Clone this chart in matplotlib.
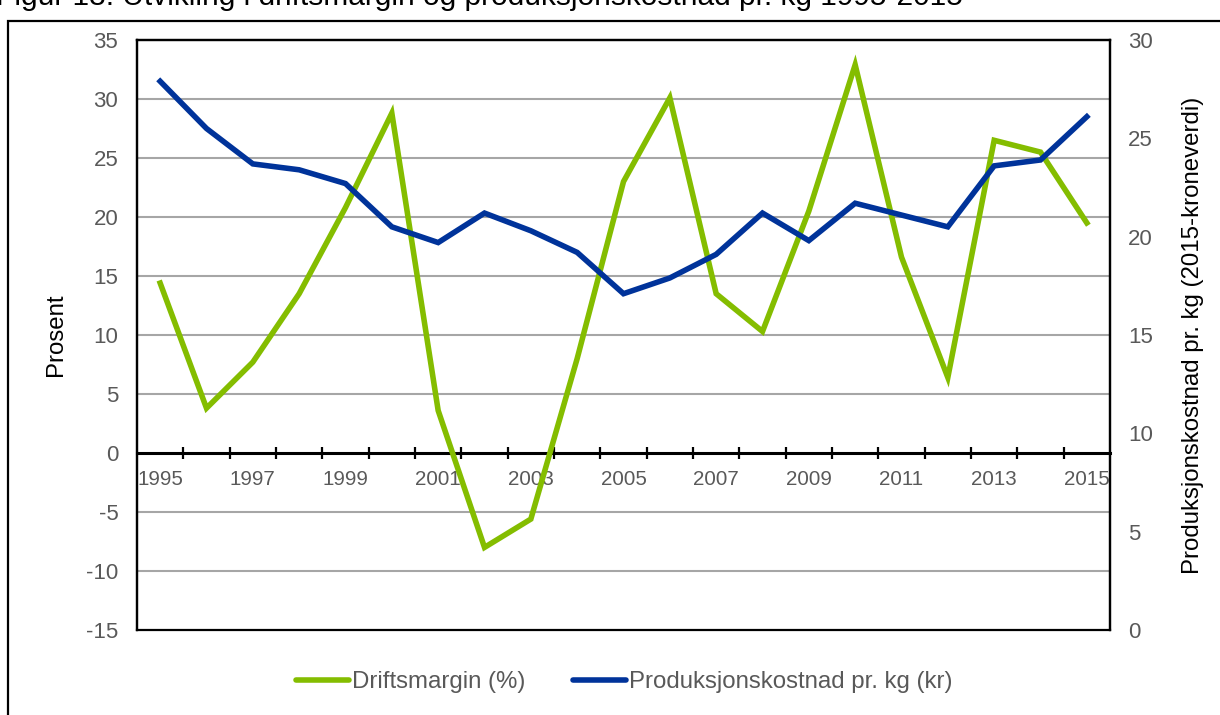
"""Driftsmargin og produksjonskostnad pr. kg 1995-2015."""

import numpy as np
import matplotlib.pyplot as plt
from matplotlib.lines import Line2D
from matplotlib.patches import Rectangle

years = list(range(1995, 2016))
driftsmargin = [14.4, 3.8, 7.7, 13.5, 20.8, 28.8, 3.6, -8.0, -5.6, 8.0, 23.0,
                30.1, 13.5, 10.3, 20.5, 32.9, 16.6, 6.4, 26.5, 25.5, 19.5]
kostnad = [27.9, 25.5, 23.7, 23.4, 22.7, 20.5, 19.7, 21.2, 20.3, 19.2, 17.1,
           17.9, 19.1, 21.2, 19.8, 21.7, 21.1, 20.5, 23.6, 23.9, 26.1]
left_ticks = list(range(-15, 40, 5))
right_ticks = list(range(0, 35, 5))

title = "Figur 13: Utvikling i driftsmargin og produksjonskostnad pr. kg 1995-2015"
green = "#84BD00"
blue = "#00339A"
label_grey = "#595959"

plt.rcParams["font.family"] = ["Liberation Sans", "DejaVu Sans"]
plt.rcParams["font.size"] = 17.3
plt.rcParams["axes.unicode_minus"] = False


def main() -> None:
    fig = plt.figure(figsize=(12.2, 7.15), dpi=100)
    ax = fig.add_axes([137 / 1220, 1 - 630 / 715, 973 / 1220, 590 / 715])
    x = np.arange(len(years))

    # outer frame and the clipped caption above it
    fig.patches.append(Rectangle((8 / 1220, -0.01), 1.02, 1 - 21 / 715 + 0.01,
                                 transform=fig.transFigure, fill=False,
                                 edgecolor="black", lw=1.6))
    fig.text(-0.003, 1 - 5 / 715, title, fontsize=21.5, va="baseline", ha="left")

    for v in left_ticks:
        if v not in (-15, 0, 35):
            ax.axhline(v, color="#A6A6A6", lw=1.5, zorder=0)

    ax.plot(x, driftsmargin, color=green, lw=4.0, solid_joinstyle="miter", zorder=3)
    ax.set_xlim(-0.5, len(years) - 0.5)
    ax.set_ylim(-15, 35)
    ax.set_yticks(left_ticks)
    ax.tick_params(axis="y", length=0, pad=13.5, labelsize=16, labelcolor=label_grey)
    ax.set_ylabel("Prosent", labelpad=14)

    # category axis drawn through zero
    ax.spines["bottom"].set_position(("data", 0))
    ax.spines["bottom"].set_linewidth(2.2)
    ax.spines["bottom"].set_zorder(2)
    ax.set_xticks(np.arange(0.5, len(years) - 0.5, 1.0))
    ax.set_xticklabels([])
    ax.tick_params(axis="x", which="major", direction="inout", length=9, width=1.6)
    ax.set_xticks(x[::2], minor=True)
    ax.set_xticklabels([str(y) for y in years[::2]], minor=True)
    ax.tick_params(axis="x", which="minor", length=0, pad=12, labelsize=14.8,
                   labelcolor=label_grey)
    for s in ("top", "left", "right"):
        ax.spines[s].set_linewidth(1.6)

    ax2 = ax.twinx()
    ax2.plot(x, kostnad, color=blue, lw=4.0, solid_joinstyle="miter", zorder=4)
    ax2.set_ylim(0, 30)
    ax2.set_yticks(right_ticks)
    ax2.tick_params(axis="y", length=0, pad=13, labelsize=16, labelcolor=label_grey)
    ax2.set_ylabel("Produksjonskostnad pr. kg (2015-kroneverdi)", labelpad=21)
    for s in ax2.spines.values():
        s.set_linewidth(1.6)

    handles = [Line2D([], [], color=green, lw=4.0, solid_capstyle="round"),
               Line2D([], [], color=blue, lw=4.0, solid_capstyle="round")]
    leg = fig.legend(handles, ["Driftsmargin (%)", "Produksjonskostnad pr. kg (kr)"],
                     loc="center", bbox_to_anchor=(624 / 1220, 1 - 682 / 715),
                     ncol=2, frameon=False, handlelength=2.2, handletextpad=0.12,
                     columnspacing=2.0)
    for t in leg.get_texts():
        t.set_color(label_grey)

    fig.savefig("out.png", dpi=100)


if __name__ == "__main__":
    main()
